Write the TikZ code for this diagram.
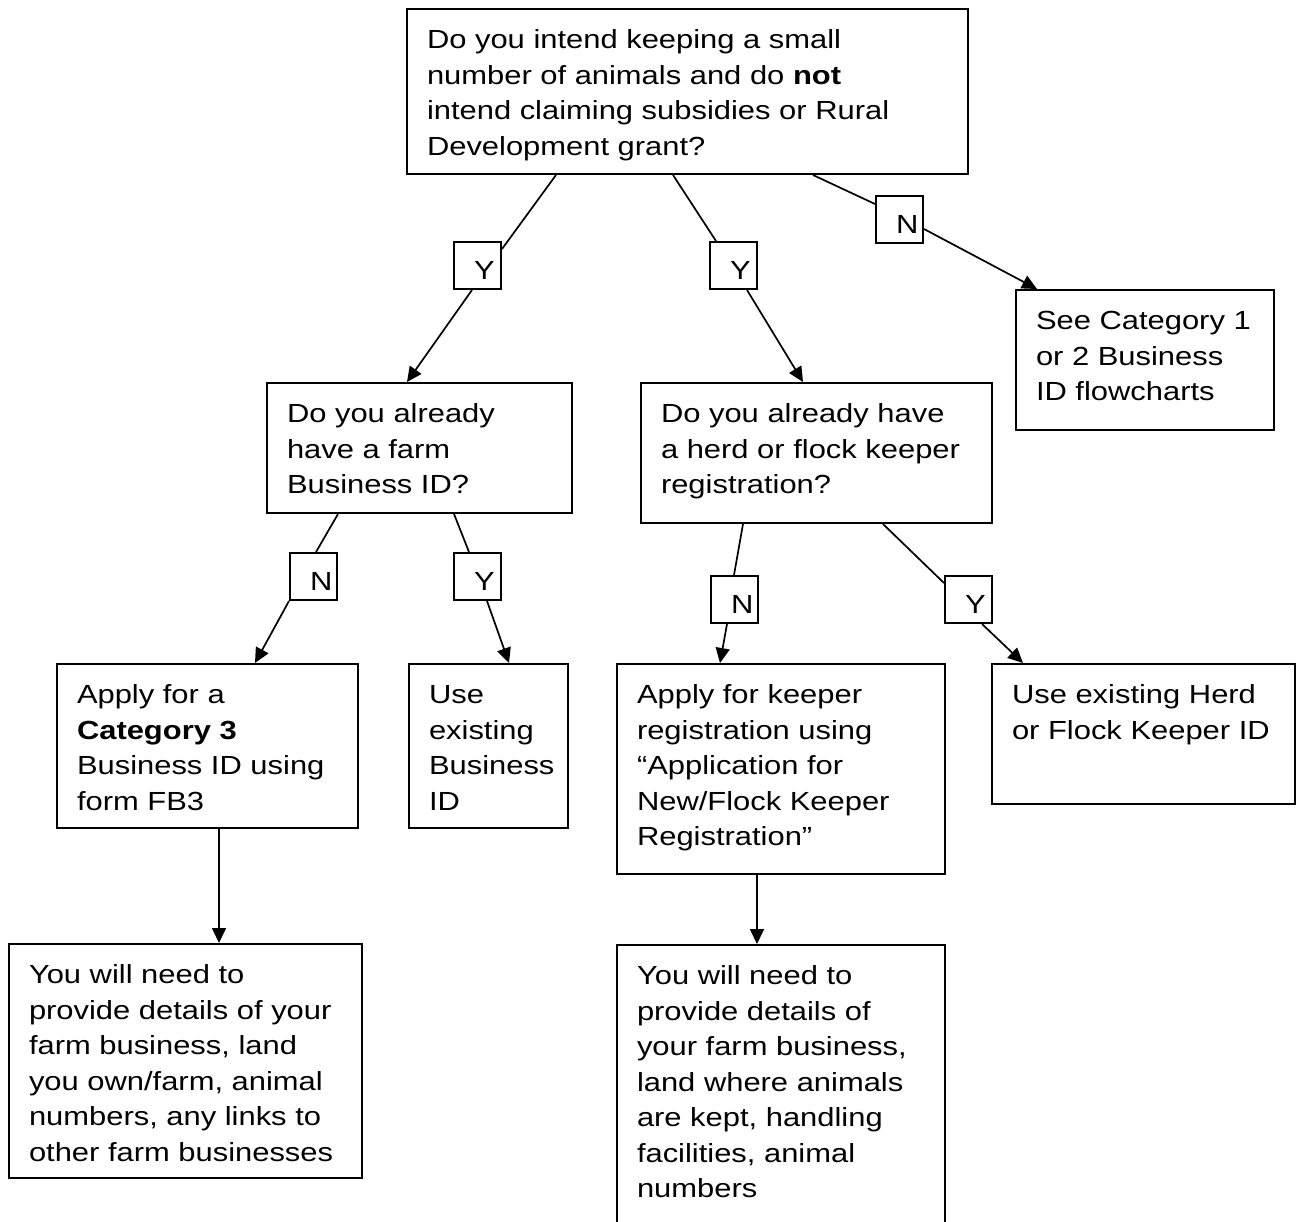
\documentclass[tikz,border=0pt]{standalone}
\usepackage{fontspec}
\setmainfont{Liberation Sans}[FakeStretch=1.18]
\usetikzlibrary{arrows.meta}
\newcommand\flowbox[6]{%
  \node[flow, minimum width=#4pt, minimum height=#5pt] (#1) at (#2,#3)
    {\parbox[c][\dimexpr#5pt-30pt\relax][t]{\dimexpr#4pt-40pt\relax}{%
      \begin{tabular}[t]{@{}l@{}}#6\end{tabular}}};}
\newcommand\yn[4]{%
  \node[lbl] (#1) at (#2,#3)
    {\makebox[47pt][l]{\hspace{20pt}\raisebox{-13.5pt}[0pt][0pt]{#4}}};}
\begin{document}
\begin{tikzpicture}[x=1pt,y=-1pt,
  flow/.style={draw, line width=2pt, anchor=north west, inner sep=0pt,
    font=\fontsize{26.2}{35.5}\selectfont},
  lbl/.style={draw, line width=2pt, anchor=north west, inner sep=0pt,
    minimum width=47pt, minimum height=47pt,
    font=\fontsize{26.2}{35.5}\selectfont},
  conn/.style={line width=1.7pt},
  arr/.style={line width=1.7pt, -{Triangle[length=15pt,width=14pt]}}]
\useasboundingbox (0,0) rectangle (1301,1221);
\clip (0,0) rectangle (1301,1221);
\fill[white] (0,0) rectangle (1301,1221);

% boxes
\flowbox{q0}{406}{8}{561}{165}{Do you intend keeping a small\\ number of animals and do \textbf{not}\\ intend claiming subsidies or Rural\\ Development grant?}
\flowbox{cat12}{1015}{289}{258}{140}{See Category 1\\ or 2 Business\\ ID flowcharts}
\flowbox{farm}{266}{382}{305}{130}{Do you already\\ have a farm\\ Business ID?}
\flowbox{herd}{640}{382}{351}{140}{Do you already have\\ a herd or flock keeper\\ registration?}
\flowbox{cat3}{56}{663}{301}{164}{Apply for a\\ \textbf{Category 3}\\ Business ID using\\ form FB3}
\flowbox{useb}{408}{663}{159}{164}{Use\\ existing\\ Business\\ ID}
\flowbox{keeper}{616}{663}{328}{210}{Apply for keeper\\ registration using\\ “Application for\\ New/Flock Keeper\\ Registration”}
\flowbox{useh}{991}{663}{303}{140}{Use existing Herd\\ or Flock Keeper ID}
\flowbox{need1}{8}{943}{353}{234}{You will need to\\ provide details of your\\ farm business, land\\ you own/farm, animal\\ numbers, any links to\\ other farm businesses}
\flowbox{need2}{616}{944}{328}{300}{You will need to\\ provide details of\\ your farm business,\\ land where animals\\ are kept, handling\\ facilities, animal\\ numbers}

% labels
\yn{lN0}{875}{195}{N}
\yn{lY1}{453}{241}{Y}
\yn{lY2}{709}{241}{Y}
\yn{lN3}{289}{552}{N}
\yn{lY3}{453}{552}{Y}
\yn{lN4}{710}{575}{N}
\yn{lY4}{944}{575}{Y}

% connectors
\draw[conn] ([xshift=150pt]q0.south west) -- ([yshift=-8pt]lY1.north east);
\draw[arr] ([xshift=19pt]lY1.south west) -- ([xshift=141pt]farm.north west);
\draw[conn] ([xshift=267pt]q0.south west) -- ([xshift=7pt]lY2.north west);
\draw[arr] ([xshift=38pt]lY2.south west) -- ([xshift=163pt]herd.north west);
\draw[conn] ([xshift=407pt]q0.south west) -- ([yshift=-9pt]lN0.north west);
\draw[arr] ([yshift=-34pt]lN0.north east) -- ([xshift=22pt]cat12.north west);

\draw[conn] ([xshift=72pt]farm.south west) -- ([xshift=27pt]lN3.north west);
\draw[arr] (lN3.south west) -- ([xshift=199pt]cat3.north west);
\draw[conn] ([xshift=188pt]farm.south west) -- ([xshift=16pt]lY3.north west);
\draw[arr] ([xshift=34pt]lY3.south west) -- ([xshift=101pt]useb.north west);

\draw[conn] ([xshift=103pt]herd.south west) -- ([xshift=24pt]lN4.north west);
\draw[arr] ([xshift=17pt]lN4.south west) -- ([xshift=104pt]keeper.north west);
\draw[conn] ([xshift=243pt]herd.south west) -- ([yshift=-8pt]lY4.north west);
\draw[arr] ([xshift=38pt]lY4.south west) -- ([xshift=32pt]useh.north west);

\draw[arr] ([xshift=163pt]cat3.south west) -- ([xshift=163pt]cat3.south west |- need1.north);
\draw[arr] ([xshift=141pt]keeper.south west) -- ([xshift=141pt]keeper.south west |- need2.north);
\end{tikzpicture}
\end{document}
